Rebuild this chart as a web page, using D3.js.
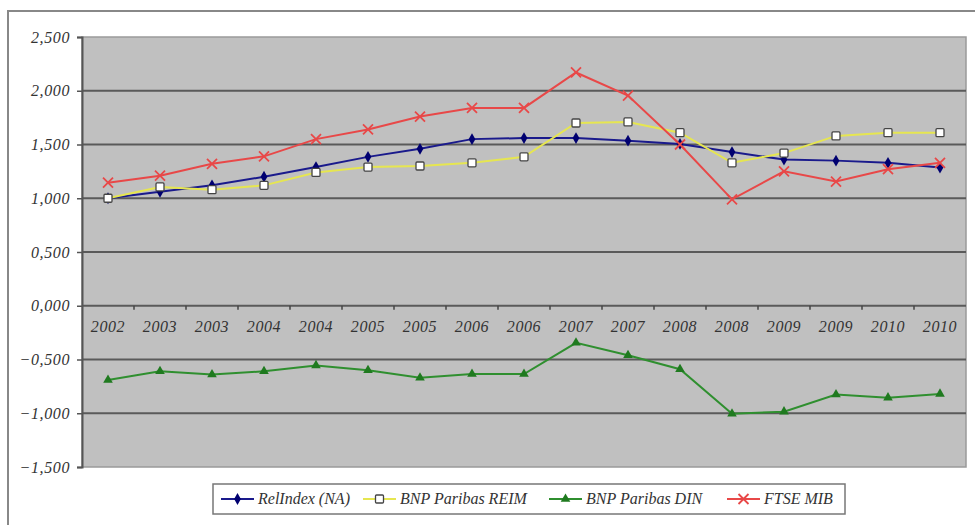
<!DOCTYPE html>
<html>
<head>
<meta charset="utf-8">
<script src="https://cdn.jsdelivr.net/npm/d3@7"></script>
<style>
  body { margin: 0; background: #fff; }
  svg text { font-family: "Liberation Serif", "DejaVu Serif", serif !important; font-style: italic; fill: #333; }
</style>
</head>
<body>
<div id="chart"></div>
<script>
var categories = ["2002", "2003", "2003", "2004", "2004", "2005", "2005", "2006", "2006",
                  "2007", "2007", "2008", "2008", "2009", "2009", "2010", "2010"];

var relIndex = [1.000, 1.06, 1.12, 1.20, 1.29, 1.385, 1.46, 1.55, 1.56, 1.56, 1.535,
                1.505, 1.43, 1.36, 1.35, 1.33, 1.285];
var bnpReim = [1.000, 1.105, 1.08, 1.12, 1.24, 1.29, 1.30, 1.33, 1.385, 1.70, 1.71,
               1.61, 1.33, 1.42, 1.58, 1.61, 1.61];
var bnpDin = [-0.69, -0.61, -0.64, -0.61, -0.555, -0.60, -0.67, -0.635, -0.635, -0.345, -0.46,
              -0.59, -1.005, -0.985, -0.825, -0.855, -0.82];
var ftseMib = [1.145, 1.21, 1.32, 1.39, 1.55, 1.64, 1.76, 1.84, 1.84, 2.17, 1.955,
               1.50, 0.99, 1.25, 1.155, 1.27, 1.33];

var yTicks = [-1.5, -1.0, -0.5, 0, 0.5, 1.0, 1.5, 2.0, 2.5];
var seriesNames = ["RelIndex (NA)", "BNP Paribas REIM", "BNP Paribas DIN", "FTSE MIB"];

var svg = d3.select("#chart").append("svg")
    .attr("width", 975)
    .attr("height", 525);

var margin = { top: 37, right: 9, bottom: 58, left: 82 },
    width = 975 - margin.left - margin.right,
    height = 525 - margin.top - margin.bottom;

// outer chart frame
svg.append("rect")
    .attr("x", 8).attr("y", 11)
    .attr("width", 975).attr("height", 525)
    .attr("fill", "#fff")
    .attr("stroke", "#888")
    .attr("stroke-width", 2);

var g = svg.append("g").attr("transform", "translate(" + margin.left + "," + margin.top + ")");

var x = d3.scaleBand()
    .domain(d3.range(categories.length))
    .range([0, width]);

var y = d3.scaleLinear()
    .domain([-1.5, 2.5])
    .range([height, 0]);

// labels in the picture use a comma as decimal sign: 2,500
var fmt = function (v) { return d3.format(".3f")(v).replace(".", ","); };

// plot background
g.append("rect")
    .attr("width", width)
    .attr("height", height)
    .attr("fill", "#c0c0c0")
    .attr("stroke", "#9a9a9a")
    .attr("stroke-width", 1.5);

// grid lines
g.selectAll(".grid")
    .data(yTicks.filter(function (d) { return d > -1.5 && d < 2.5; }))
    .enter().append("line")
    .attr("x1", 0).attr("x2", width)
    .attr("y1", function (d) { return y(d); })
    .attr("y2", function (d) { return y(d); })
    .attr("stroke", "#5a5a5a")
    .attr("stroke-width", 2);

// y axis
var yAxis = g.append("g")
    .attr("font-family", "Liberation Serif")
    .call(d3.axisLeft(y).tickValues(yTicks).tickFormat(fmt).tickSize(5).tickPadding(7));
yAxis.attr("font-family", "Liberation Serif").attr("font-size", 16);
yAxis.select(".domain").attr("stroke", "#555").attr("stroke-width", 2);
yAxis.selectAll(".tick line").attr("stroke", "#555").attr("stroke-width", 1.5);
yAxis.selectAll("text")
    .attr("font-size", 16)
    .attr("font-style", "italic")
    .attr("letter-spacing", 0.6)
    .attr("fill", "#444");

// x axis along zero
var xAxisG = g.append("g").attr("transform", "translate(0," + y(0) + ")");
xAxisG.selectAll(".xtick")
    .data(d3.range(1, categories.length))
    .enter().append("line")
    .attr("x1", function (i) { return x(i); })
    .attr("x2", function (i) { return x(i); })
    .attr("y1", 0).attr("y2", 4)
    .attr("stroke", "#444").attr("stroke-width", 1.5);
xAxisG.selectAll(".xlab")
    .data(categories)
    .enter().append("text")
    .attr("x", function (d, i) { return x(i) + x.bandwidth() / 2; })
    .attr("y", 26)
    .attr("text-anchor", "middle")
    .attr("font-size", 16)
    .attr("letter-spacing", 0.6)
    .attr("fill", "#333")
    .text(function (d) { return d; });

var line = d3.line()
    .x(function (d, i) { return x(i) + x.bandwidth() / 2; })
    .y(function (d) { return y(d); });

var series = [
    { name: seriesNames[0], values: relIndex, color: "#1a1a8c", marker: "diamond" },
    { name: seriesNames[1], values: bnpReim, color: "#e6e650", marker: "square" },
    { name: seriesNames[2], values: bnpDin, color: "#2f8f2f", marker: "triangle" },
    { name: seriesNames[3], values: ftseMib, color: "#e84848", marker: "cross" }
];

function drawMarker(sel, s, cx, cy) {
    if (s.marker === "diamond") {
        sel.append("path")
            .attr("d", d3.symbol().type(d3.symbolDiamond).size(40)())
            .attr("transform", "translate(" + cx + "," + cy + ")")
            .attr("fill", "#000070");
    } else if (s.marker === "square") {
        sel.append("rect")
            .attr("x", cx - 4).attr("y", cy - 4)
            .attr("width", 8).attr("height", 8)
            .attr("rx", 1)
            .attr("fill", "#fff").attr("stroke", "#444").attr("stroke-width", 1.3);
    } else if (s.marker === "triangle") {
        sel.append("path")
            .attr("d", d3.symbol().type(d3.symbolTriangle).size(40)())
            .attr("transform", "translate(" + cx + "," + cy + ")")
            .attr("fill", "#1f7a1f");
    } else {
        sel.append("path")
            .attr("d", "M-5,-5L5,5M-5,5L5,-5")
            .attr("transform", "translate(" + cx + "," + cy + ")")
            .attr("stroke", s.color).attr("stroke-width", 1.8).attr("fill", "none");
    }
}

series.forEach(function (s) {
    g.append("path")
        .datum(s.values)
        .attr("d", line)
        .attr("fill", "none")
        .attr("stroke", s.color)
        .attr("stroke-width", 2);
});
series.forEach(function (s) {
    var mg = g.append("g");
    s.values.forEach(function (v, i) {
        drawMarker(mg, s, x(i) + x.bandwidth() / 2, y(v));
    });
});

// legend
var legend = svg.append("g");
legend.append("rect")
    .attr("x", 213).attr("y", 484)
    .attr("width", 632).attr("height", 30)
    .attr("fill", "#fff")
    .attr("stroke", "#777")
    .attr("stroke-width", 1.5);

var legendX = [221, 363, 549, 727];
series.forEach(function (s, i) {
    var lx = legendX[i], ly = 499;
    legend.append("line")
        .attr("x1", lx).attr("x2", lx + 33)
        .attr("y1", ly).attr("y2", ly)
        .attr("stroke", s.color).attr("stroke-width", 2);
    drawMarker(legend, s, lx + 16.5, ly);
    legend.append("text")
        .attr("x", lx + 37).attr("y", ly + 5)
        .attr("font-size", 16)
        .attr("fill", "#333")
        .text(s.name);
});
</script>
</body>
</html>
